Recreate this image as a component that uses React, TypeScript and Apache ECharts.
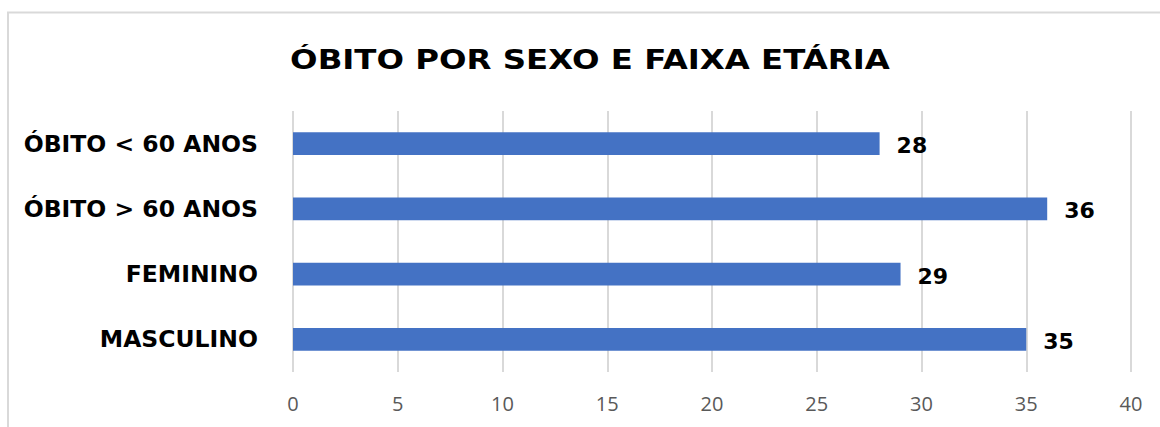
import React, { useEffect, useRef } from "react";
import * as echarts from "echarts";

const categories = ["MASCULINO", "FEMININO", "ÓBITO > 60 ANOS", "ÓBITO < 60 ANOS"];
const values = [35, 29, 36, 28];
const titleText = "ÓBITO POR SEXO E FAIXA ETÁRIA";

export default function App() {
  const ref = useRef<HTMLDivElement>(null);
  useEffect(() => {
    document.body.style.margin = "0";
    const chart = echarts.init(ref.current!, undefined, { renderer: "svg" });
    chart.setOption({
      animation: false,
      backgroundColor: "#ffffff",
      graphic: [
        {
          type: "rect",
          shape: { x: 8, y: 12.5, width: 1200, height: 500 },
          style: { fill: "none", stroke: "#d9d9d9", lineWidth: 2 },
          silent: true,
          z: -1,
        },
        {
          type: "text",
          x: 590,
          y: 59,
          scaleX: 1.2,
          style: {
            text: titleText,
            textAlign: "center",
            textVerticalAlign: "middle",
            fontFamily: "DejaVu Sans",
            fontWeight: "bold",
            fontSize: 27,
            fill: "#000",
          },
        },
      ],
      grid: { left: 293, right: 29, top: 111, bottom: 55 },
      xAxis: {
        type: "value",
        min: 0,
        max: 40,
        interval: 5,
        axisLine: { show: false },
        axisTick: { show: false },
        splitLine: { show: true, lineStyle: { color: "#d9d9d9", width: 2 } },
        axisLabel: { color: "#595959", fontSize: 20, fontFamily: "Open Sans", margin: 21 },
      },
      yAxis: {
        type: "category",
        data: categories,
        axisLine: { show: false },
        axisTick: { show: false },
        axisLabel: { color: "#000", fontSize: 23.5, fontWeight: "bold", fontFamily: "DejaVu Sans", margin: 35 },
      },
      series: [
        {
          type: "bar",
          data: values,
          barWidth: "35%",
          itemStyle: { color: "#4472C4" },
          label: {
            show: true,
            position: "right",
            distance: 17,
            offset: [0, 2],
            color: "#000",
            fontSize: 22,
            fontWeight: "bold",
            fontFamily: "DejaVu Sans",
          },
        },
      ],
    });
    return () => chart.dispose();
  }, []);
  return <div ref={ref} style={{ width: 1160, height: 427 }} />;
}
